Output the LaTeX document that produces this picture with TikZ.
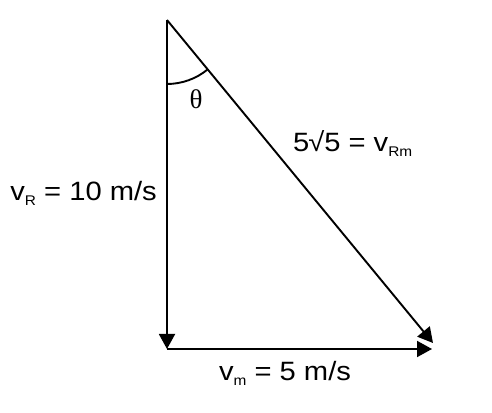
\documentclass[tikz,border=0pt]{standalone}
\usepackage{fontspec}
\usepackage{graphicx}
\setmainfont{Liberation Sans}
\newfontfamily\greekfont{Liberation Serif}
\usetikzlibrary{arrows.meta,calc,positioning}
\tikzstyle{velarrow} = [-{Triangle[length=15pt,width=16pt]},line width=1.9pt,black]
\tikzstyle{anglearc} = [line width=1.9pt,black]
\tikzstyle{vellabel} = [inner sep=0pt,font=\fontsize{26.5}{30}\selectfont]
\newcommand{\lowsub}[1]{\raisebox{-0.35ex}{\fontsize{14}{15}\selectfont #1}}
\newcommand{\widetext}[1]{\scalebox{1.1}[1]{#1}}

\begin{document}
\begin{tikzpicture}[x=1pt,y=1pt]
\def\arcrad{64}
\def\hypangle{309.5}
    \useasboundingbox (0,0) rectangle (492,412);

    % corners of the triangle
    \coordinate (top) at (167,392);
    \coordinate (corner) at (167,63);
    \coordinate (right) at (432,63);
    \coordinate (hyptip) at (433,69);

    \draw[velarrow] (top) -- (corner);
    \draw[velarrow] (corner) -- (right);
    \draw[velarrow] (top) -- (hyptip);

    \draw[anglearc] ($(top)+(270:\arcrad)$) arc (270:\hypangle:\arcrad);

    \node[vellabel, anchor=base east] (vR-label) at (157,211) {\widetext{v\lowsub{R} = 10 m/s}};
    \node[vellabel, anchor=base west] (vRm-label) at (293,260) {\widetext{5\kern-1pt√5 = v\lowsub{Rm}}};
    \node[vellabel, anchor=base] (vm-label) at (285,31) {\widetext{v\lowsub{m} = 5 m/s}};
    \node[inner sep=0pt, font=\greekfont\fontsize{27}{30}\selectfont] (theta) at (196,313) {θ};

\end{tikzpicture}
\end{document}
